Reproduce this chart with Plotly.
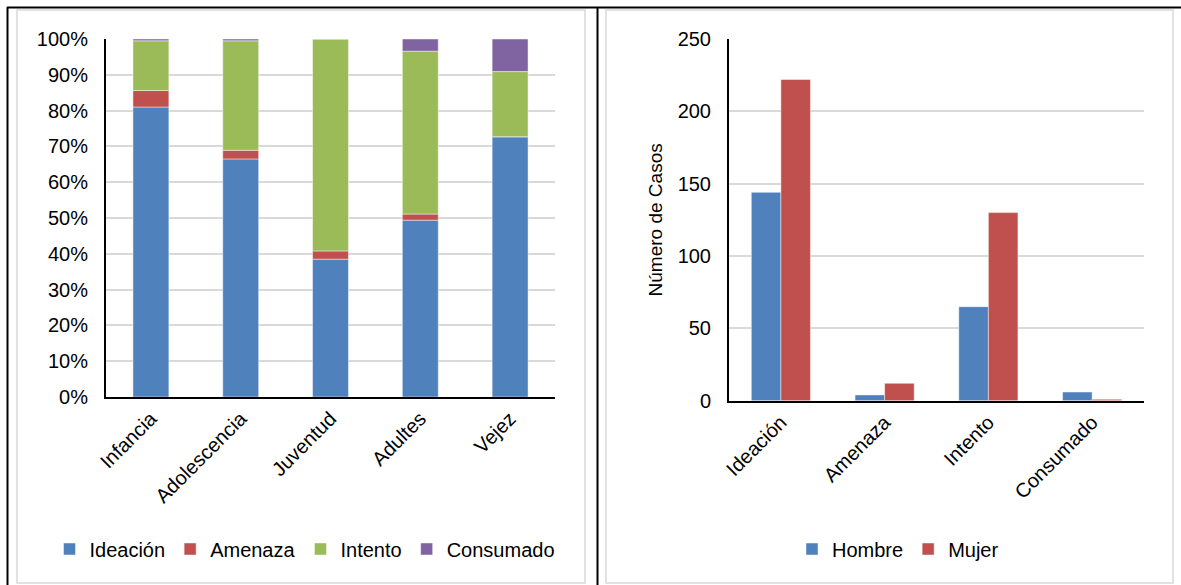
import plotly.graph_objects as go

# ---- data ----
etapas = ["Infancia", "Adolescencia", "Juventud", "Adultes", "Vejez"]
ideacion_pct = [81.0, 66.5, 38.5, 49.4, 72.7]
amenaza_pct = [4.6, 2.4, 2.3, 1.7, 0.0]
intento_pct = [13.9, 30.6, 59.2, 45.5, 18.2]
consumado_pct = [0.5, 0.5, 0.0, 3.4, 9.1]

tipos = ["Ideación", "Amenaza", "Intento", "Consumado"]
hombre = [144, 4, 65, 6]
mujer = [222, 12, 130, 1]

pct_ticks = [0, 10, 20, 30, 40, 50, 60, 70, 80, 90, 100]
casos_ticks = [0, 50, 100, 150, 200, 250]

# ---- style ----
FONT = "Liberation Sans Narrow, Arial Narrow, Liberation Sans, Arial, sans-serif"
BLUE, RED, GREEN, PURPLE = "#4F81BD", "#C0504D", "#9BBB59", "#8064A2"
GRID = "#D9D9D9"
W, H = 1181, 585

def px_x(v):
    return v / W

def px_y(v):
    return 1 - v / H

fig = go.Figure()

# left: 100% stacked bars, stacked via cumulative base
series = [("Ideación", ideacion_pct, BLUE), ("Amenaza", amenaza_pct, RED),
          ("Intento", intento_pct, GREEN), ("Consumado", consumado_pct, PURPLE)]
base = [0.0] * len(etapas)
for name, vals, col in series:
    fr = [v / 100 for v in vals]
    fig.add_trace(go.Bar(
        x=etapas, y=fr, base=list(base), name=name,
        marker=dict(color=col, line=dict(color="rgba(255,255,255,0.45)", width=1)),
        width=0.4, offset=-0.2, xaxis="x", yaxis="y", legend="legend",
    ))
    base = [b + f for b, f in zip(base, fr)]

# right: clustered bars
fig.add_trace(go.Bar(
    x=tipos, y=hombre, name="Hombre",
    marker=dict(color=BLUE, line=dict(color="rgba(255,255,255,0.45)", width=1)),
    width=0.285, offset=-0.285, xaxis="x2", yaxis="y2", legend="legend2",
))
fig.add_trace(go.Bar(
    x=tipos, y=mujer, name="Mujer",
    marker=dict(color=RED, line=dict(color="rgba(255,255,255,0.45)", width=1)),
    width=0.285, offset=0.0, xaxis="x2", yaxis="y2", legend="legend2",
))

tickfont = dict(family=FONT, size=20, color="#000000")

fig.update_layout(
    width=W, height=H,
    margin=dict(l=0, r=0, t=0, b=0, pad=0, autoexpand=False),
    paper_bgcolor="white", plot_bgcolor="white",
    barmode="overlay",
    font=dict(family=FONT, size=20, color="#000000"),
    showlegend=True,
    xaxis=dict(domain=[px_x(106), px_x(555)], anchor="y", range=[-0.5, 4.5],
               tickangle=-45, tickfont=tickfont, showline=True, linecolor="black",
               linewidth=2, showgrid=False, ticks="", automargin=False),
    yaxis=dict(domain=[px_y(397), px_y(39)], anchor="x", range=[0, 1],
               tickvals=[t / 100 for t in pct_ticks], tickformat=".0%",
               tickfont=tickfont, showline=True, linecolor="black", linewidth=2,
               showgrid=True, gridcolor=GRID, gridwidth=1.5, zeroline=False,
               ticklabelstandoff=12, automargin=False),
    xaxis2=dict(domain=[px_x(729), px_x(1144)], anchor="y2", range=[-0.5, 3.5],
                tickangle=-45, tickfont=tickfont, showline=True, linecolor="black",
                linewidth=2, showgrid=False, ticks="", automargin=False),
    yaxis2=dict(domain=[px_y(400.7), px_y(39)], anchor="x2", range=[0, 250],
                tickvals=casos_ticks, tickfont=tickfont, showline=True,
                linecolor="black", linewidth=2, showgrid=True, gridcolor=GRID,
                gridwidth=1.5, zeroline=False, ticklabelstandoff=12, automargin=False,
                title=dict(text="Número de Casos", font=dict(family=FONT, size=19),
                           standoff=10)),
    legend=dict(orientation="h", x=px_x(305), xanchor="center", y=px_y(549),
                yanchor="middle", traceorder="normal", font=dict(family=FONT, size=20),
                bgcolor="rgba(0,0,0,0)"),
    legend2=dict(orientation="h", x=px_x(898), xanchor="center", y=px_y(549),
                 yanchor="middle", traceorder="normal", font=dict(family=FONT, size=20),
                 bgcolor="rgba(0,0,0,0)"),
    shapes=[
        # light gray chart-area frames
        dict(type="rect", xref="paper", yref="paper", x0=px_x(17), x1=px_x(585),
             y0=px_y(583), y1=px_y(10), line=dict(color=GRID, width=1.5)),
        dict(type="rect", xref="paper", yref="paper", x0=px_x(606), x1=px_x(1173),
             y0=px_y(583), y1=px_y(10), line=dict(color=GRID, width=1.5)),
        # black table borders
        dict(type="line", xref="paper", yref="paper", x0=px_x(7), x1=1,
             y0=px_y(7.5), y1=px_y(7.5), line=dict(color="black", width=2)),
        dict(type="line", xref="paper", yref="paper", x0=px_x(7.5), x1=px_x(7.5),
             y0=0, y1=px_y(7), line=dict(color="black", width=2)),
        dict(type="line", xref="paper", yref="paper", x0=px_x(597.5), x1=px_x(597.5),
             y0=0, y1=px_y(7), line=dict(color="black", width=2)),
    ],
)

fig.write_html(
    "out.html",
    config={"displayModeBar": False},
    post_script="document.body.style.margin='0';document.body.style.overflow='hidden';",
)
